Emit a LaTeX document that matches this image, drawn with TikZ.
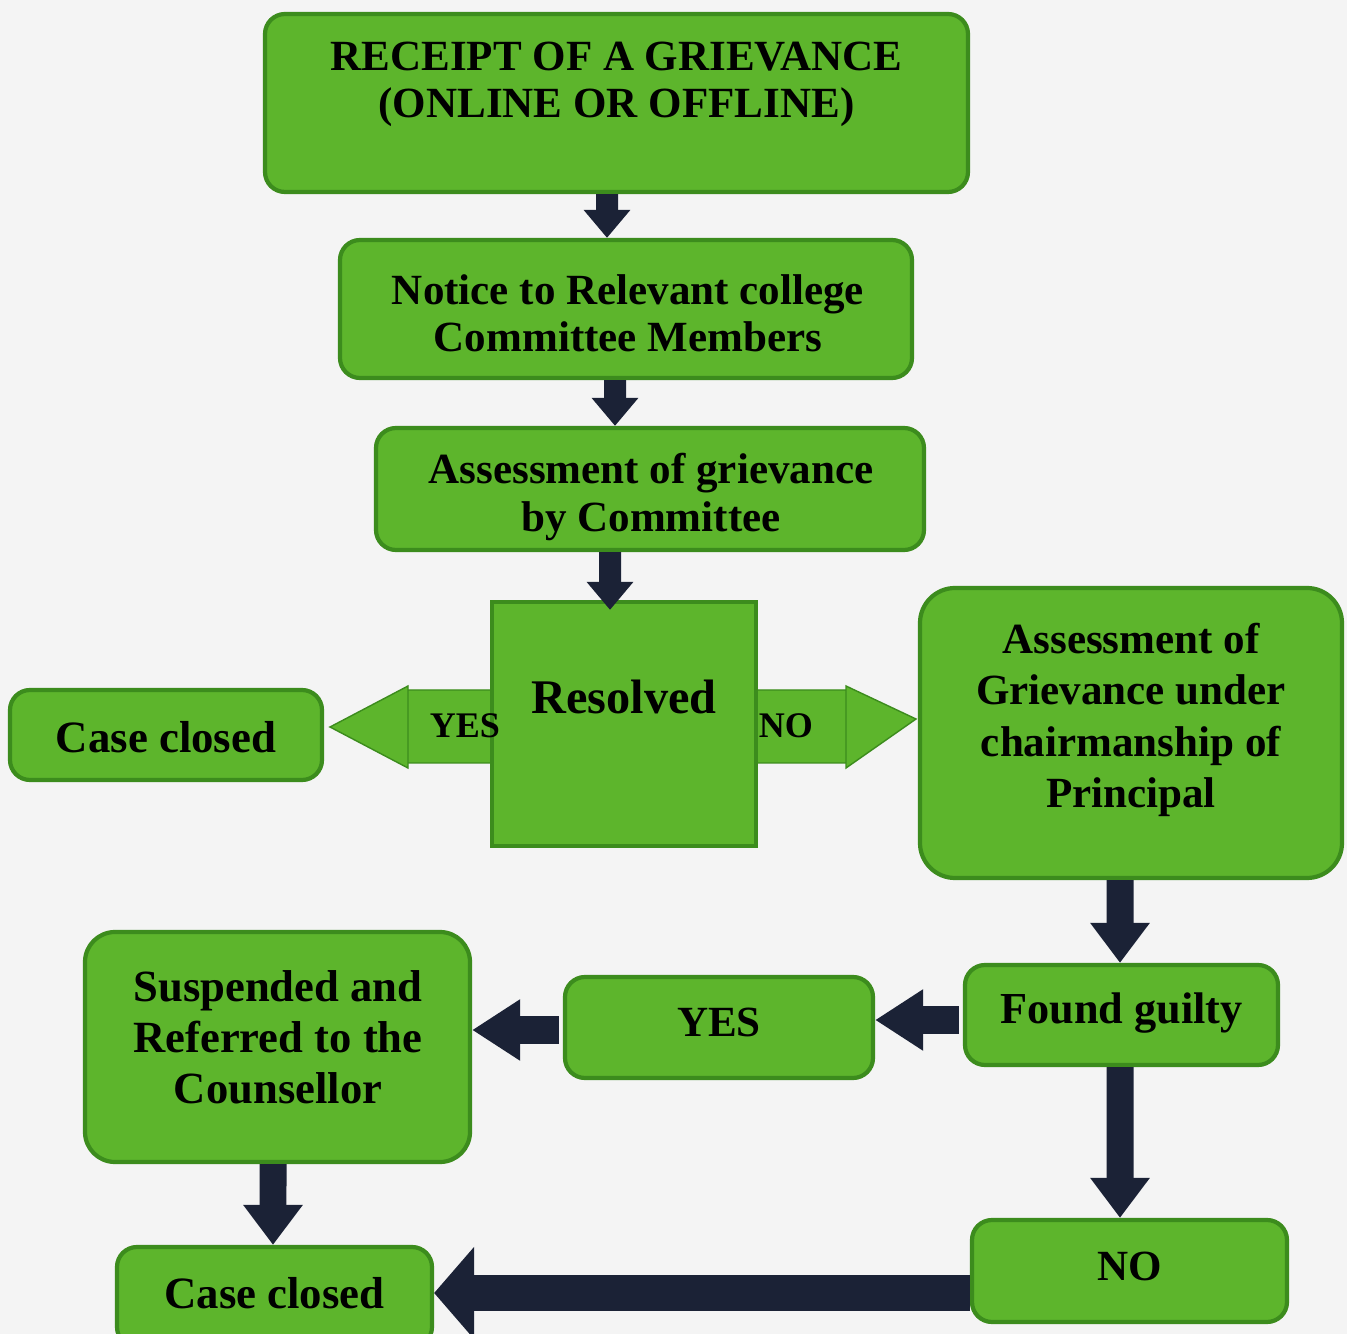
\documentclass[tikz,border=0pt]{standalone}
\usepackage{fontspec}
\setmainfont{Liberation Serif}
\usetikzlibrary{arrows.meta,calc}
\definecolor{gfill}{HTML}{5DB52C}
\definecolor{gedge}{HTML}{3C8C1D}
\definecolor{navy}{HTML}{1B2236}
\definecolor{paper}{HTML}{F4F4F4}
\begin{document}
\begin{tikzpicture}[x=0.02cm,y=-0.02cm,
  gbox/.style={draw=gedge, line width=2.4pt, fill=gfill, rounded corners=0.4cm, inner sep=0pt},
  sqbox/.style={draw=gedge, line width=2.4pt, fill=gfill, sharp corners, inner sep=0pt},
  txt/.style={align=center, inner sep=0pt, text=black, font=\fontsize{24.5}{26.8}\selectfont\bfseries},
  small/.style={align=center, inner sep=0pt, text=black, font=\fontsize{20.5}{24}\selectfont\bfseries},
  varr/.style={draw=navy, line width=0.44cm, -{Triangle[width=0.9cm,length=0.56cm]}},
  barr/.style={draw=navy, line width=0.54cm, -{Triangle[width=1.14cm,length=0.8cm]}},
  harr/.style={draw=navy, line width=0.56cm, -{Triangle[width=1.16cm,length=0.96cm]}},
  bigarr/.style={draw=navy, line width=0.72cm, -{Triangle[width=1.8cm,length=0.8cm]}}
]
\fill[paper] (0,0) rectangle (1347,1334);
\useasboundingbox (0,0) rectangle (1347,1334);

% boxes
\node[gbox, minimum width=703*0.02cm, minimum height=178*0.02cm] (rec) at (616.5,103) {};
\node[txt] (recT) at (616.5,84.5) {RECEIPT OF A GRIEVANCE\\(ONLINE OR OFFLINE)};

\node[gbox, minimum width=572*0.02cm, minimum height=138*0.02cm] (notice) at (626,309) {};
\node[txt] (noticeT) at (628,313) {Notice to Relevant college\\Committee Members};

\node[gbox, minimum width=548*0.02cm, minimum height=122*0.02cm] (assess) at (650,489) {};
\node[txt] (assessT) at (651,497) {Assessment of grievance\\by Committee};

% YES / NO green arrows out of Resolved
\fill[gfill, draw=gedge, line width=0.8pt, rounded corners=0.15cm] (520,690) -- (400,690) -- (400,763) -- (520,763) -- cycle;
\fill[gfill, draw=gedge, line width=0.8pt] (408,686) -- (330,727) -- (408,768) -- cycle;
\fill[gfill, draw=gedge, line width=0.8pt, rounded corners=0.15cm] (730,690) -- (856,690) -- (856,763) -- (730,763) -- cycle;
\fill[gfill, draw=gedge, line width=0.8pt] (846,686) -- (916,719) -- (846,768) -- cycle;

\node[sqbox, minimum width=264*0.02cm, minimum height=244*0.02cm] (res) at (624,724) {};
\node[txt, font=\fontsize{27.5}{30}\selectfont\bfseries] (resT) at (624,697) {Resolved};
\node[small] (yesS) at (465,726) {YES};
\node[small] (noS) at (786,726) {NO};

\node[gbox, minimum width=312*0.02cm, minimum height=90*0.02cm] (caseL) at (166,735) {};
\node[txt, font=\fontsize{25.5}{28}\selectfont\bfseries] (caseLT) at (166,737) {Case closed};

\node[gbox, rounded corners=0.7cm, minimum width=422*0.02cm, minimum height=290*0.02cm] (princ) at (1131,733) {};
\node[txt, font=\fontsize{24.5}{29.2}\selectfont\bfseries] (princT) at (1131,720) {Assessment of\\Grievance under\\chairmanship of\\Principal};

\node[gbox, minimum width=313*0.02cm, minimum height=100*0.02cm] (guilty) at (1121.5,1015) {};
\node[txt, font=\fontsize{25.2}{28}\selectfont\bfseries] (guiltyT) at (1121.5,1013) {Found guilty};

\node[gbox, minimum width=308*0.02cm, minimum height=101*0.02cm] (yesB) at (719,1027.5) {};
\node[txt] (yesBT) at (719,1022) {YES};

\node[gbox, rounded corners=0.6cm, minimum width=385*0.02cm, minimum height=230*0.02cm] (susp) at (277.5,1047) {};
\node[txt, font=\fontsize{25.4}{29}\selectfont\bfseries] (suspT) at (278,1037) {Suspended and\\Referred to the\\Counsellor};

\node[gbox, minimum width=315*0.02cm, minimum height=100*0.02cm] (caseB) at (274.5,1297) {};
\node[txt, font=\fontsize{25.5}{28}\selectfont\bfseries] (caseBT) at (274.5,1293) {Case closed};

\node[gbox, minimum width=315*0.02cm, minimum height=102*0.02cm] (noB) at (1129.5,1271) {};
\node[txt] (noBT) at (1130,1266) {NO};

% connectors
\coordinate (g1) at ($(guilty.west)+(-4,5)$);
\coordinate (y1) at ($(yesB.west)+(-4,2.5)$);
\draw[varr] ([xshift=-0.19cm]rec.south) -- ([xshift=-0.38cm]notice.north);
\draw[varr] ([xshift=-0.22cm]notice.south) -- ([xshift=-0.7cm]assess.north);
\draw[varr] ([xshift=-0.8cm]assess.south) -- ($([xshift=-0.28cm]res.north)+(0,10)$);
\draw[barr] ([xshift=-0.22cm]princ.south) -- ([xshift=-0.03cm]guilty.north);
\draw[harr] (g1) -- (g1 -| yesB.east);
\draw[harr] (y1) -- (y1 -| susp.east);
\draw[barr] ([xshift=-0.09cm]susp.south) -- ([xshift=-0.03cm]caseB.north);
\draw[barr] ([xshift=-0.03cm]guilty.south) -- ([xshift=-0.19cm]noB.north);
\draw[bigarr] ([yshift=-0.44cm]noB.west) -- ([yshift=0.08cm]caseB.east);
\end{tikzpicture}
\end{document}
